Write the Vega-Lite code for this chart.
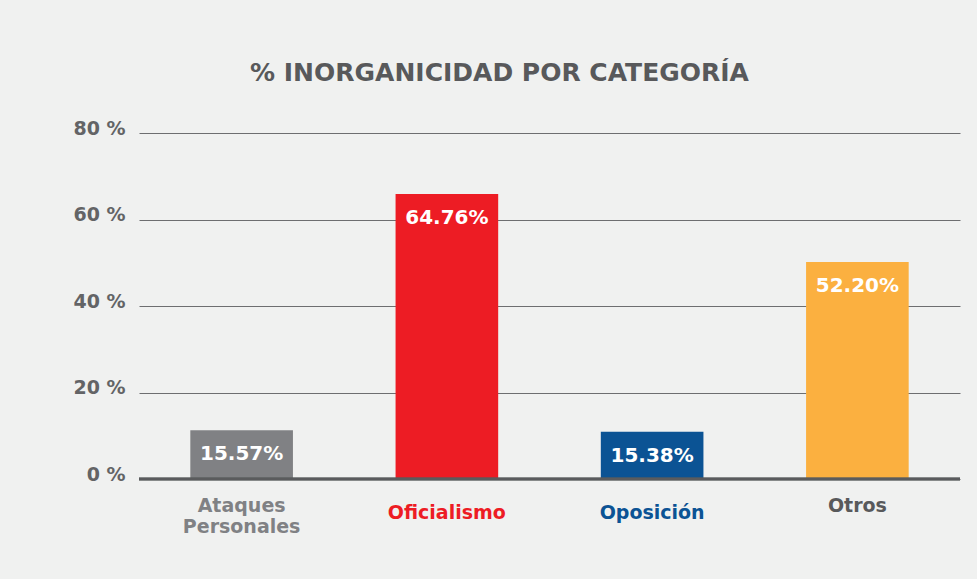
{
  "$schema": "https://vega.github.io/schema/vega-lite/v6.json",
  "autosize": {"type": "none"},
  "padding": {"left": 139, "top": 133, "right": 17, "bottom": 100},
  "width": 821,
  "height": 346,
  "background": "#f0f1f0",
  "title": {
    "text": "% INORGANICIDAD POR CATEGORÍA",
    "font": "DejaVu Sans",
    "fontWeight": "bold",
    "fontSize": 25,
    "color": "#58595b",
    "anchor": "middle",
    "frame": "group",
    "dx": -50,
    "offset": 33
  },
  "data": {
    "values": [
      {"categoria": "Ataques Personales", "valor": 11.3, "etiqueta": "15.57%"},
      {"categoria": "Oficialismo", "valor": 65.9, "etiqueta": "64.76%"},
      {"categoria": "Oposición", "valor": 10.9, "etiqueta": "15.38%"},
      {"categoria": "Otros", "valor": 50.2, "etiqueta": "52.20%"}
    ]
  },
  "config": {
    "view": {"stroke": null},
    "font": "DejaVu Sans"
  },
  "layer": [
    {
      "mark": {"type": "bar"},
      "encoding": {
        "x": {
          "field": "categoria",
          "type": "nominal",
          "sort": null,
          "scale": {"paddingInner": 0.5, "paddingOuter": 0.25},
          "axis": {
            "title": null,
            "domain": false,
            "ticks": false,
            "labelAngle": 0,
            "labelFont": "DejaVu Sans",
            "labelFontWeight": "bold",
            "labelFontSize": 19,
            "labelBaseline": "top",
            "labelLineHeight": 21,
            "labelExpr": "datum.label == 'Ataques Personales' ? ['Ataques', 'Personales'] : datum.label",
            "labelPadding": {"condition": {"test": "datum.value == 'Oficialismo' || datum.value == 'Oposición'", "value": 24}, "value": 17},
            "labelColor": {"condition": [
              {"test": "datum.value == 'Oficialismo'", "value": "#ed1c24"},
              {"test": "datum.value == 'Oposición'", "value": "#0b5394"},
              {"test": "datum.value == 'Ataques Personales'", "value": "#808184"}
            ], "value": "#58595b"}
          }
        },
        "y": {
          "field": "valor",
          "type": "quantitative",
          "scale": {"domain": [0, 80], "nice": false},
          "axis": {
            "title": null,
            "values": [0, 20, 40, 60, 80],
            "labelExpr": "datum.value + ' %'",
            "domain": false,
            "ticks": false,
            "grid": true,
            "gridColor": "#6d6e70",
            "gridWidth": 1.2,
            "labelFont": "DejaVu Sans",
            "labelFontWeight": "bold",
            "labelFontSize": 19,
            "labelColor": "#636466",
            "labelPadding": 14,
            "labelOffset": -5
          }
        },
        "color": {
          "field": "categoria",
          "type": "nominal",
          "legend": null,
          "scale": {
            "domain": ["Ataques Personales", "Oficialismo", "Oposición", "Otros"],
            "range": ["#808184", "#ed1c24", "#0b5394", "#fbb040"]
          }
        }
      }
    },
    {
      "mark": {"type": "rule", "color": "#5a5b5d", "strokeWidth": 2.5},
      "encoding": {"y": {"datum": 0}}
    },
    {
      "mark": {"type": "text", "color": "white", "fontWeight": "bold", "fontSize": 20, "font": "DejaVu Sans", "baseline": "middle", "dy": 24},
      "encoding": {
        "x": {"field": "categoria", "type": "nominal", "sort": null},
        "y": {"field": "valor", "type": "quantitative"},
        "text": {"field": "etiqueta"}
      }
    }
  ]
}
